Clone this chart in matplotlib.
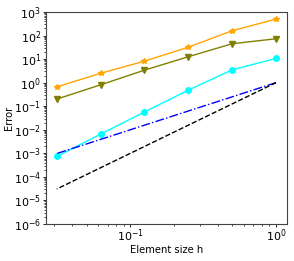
import matplotlib
matplotlib.use("Agg")
import matplotlib.pyplot as plt
from matplotlib.ticker import LogLocator, NullFormatter

h = [1.0, 0.5, 0.25, 0.125, 0.0625, 0.03125]
err_orange = [500, 160, 32, 8.2, 2.5, 0.66]
err_olive = [73, 45, 12.6, 3.4, 0.81, 0.2]
err_cyan = [10.7, 3.5, 0.48, 0.057, 0.0065, 7.4e-4]
ref_h2 = [1.0, 0.25, 0.0625, 0.015625, 0.00390625, 0.0009765625]
ref_h3 = [1.0, 0.125, 0.015625, 0.001953125, 0.000244140625, 3.0517578125e-05]

fig = plt.figure(figsize=(2.94, 2.61), dpi=100)
ax = fig.add_axes([0.156, 0.142, 0.820, 0.812])
lw = 1.0
ax.loglog(h, err_orange, color="orange", marker="*", markersize=4, lw=lw)
ax.loglog(h, err_olive, color="olive", marker="v", markersize=4, lw=lw)
ax.loglog(h, err_cyan, color="cyan", marker="o", markersize=4, lw=lw)
ax.loglog(h, ref_h2, color="blue", ls="-.", lw=lw)
ax.loglog(h, ref_h3, color="black", ls="--", lw=lw)
ax.set_ylim(1e-6, 1e3)
ax.yaxis.set_major_locator(LogLocator(base=10, numticks=20))
ax.yaxis.set_minor_locator(LogLocator(base=10, subs=range(2, 10), numticks=100))
ax.yaxis.set_minor_formatter(NullFormatter())
ax.set_xlabel("Element size h", fontsize=7.2, labelpad=0.5)
ax.set_ylabel("Error", fontsize=7.2, labelpad=-0.5)
ax.tick_params(which="major", labelsize=8, length=2.5, width=0.6, pad=1.0)
ax.tick_params(axis="x", which="major", pad=0.3)
ax.tick_params(which="minor", length=1.5, width=0.5)
for s in ax.spines.values():
    s.set_color("#444444")
    s.set_linewidth(0.8)
fig.savefig("out.png", dpi=100)
